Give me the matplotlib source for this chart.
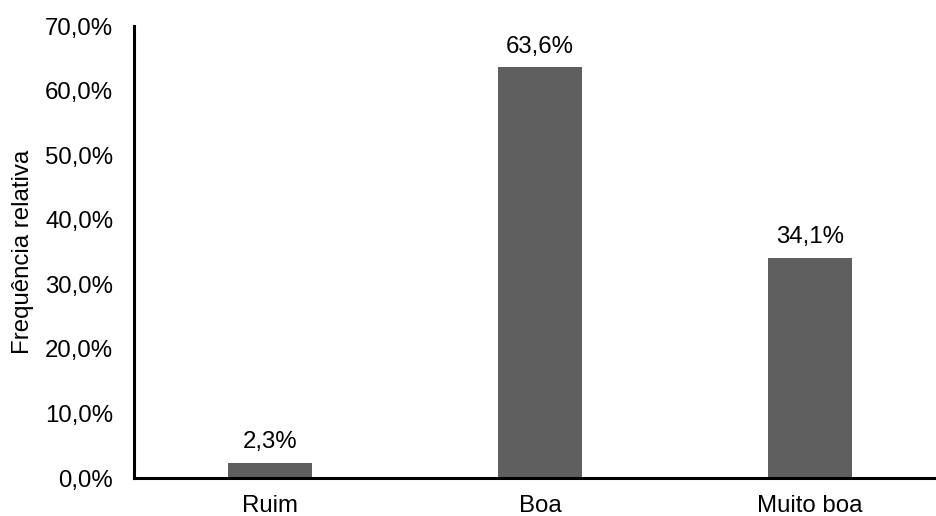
import matplotlib
matplotlib.use("Agg")
import matplotlib.pyplot as plt
from matplotlib.ticker import FuncFormatter

plt.rcParams['font.family'] = ['Liberation Sans', 'DejaVu Sans']

categorias = ['Ruim', 'Boa', 'Muito boa']
frequencias = [2.3, 63.6, 34.1]
yticks = [0, 10, 20, 30, 40, 50, 60, 70]

fig = plt.figure(figsize=(9.37, 5.16), dpi=100)
ax = fig.add_axes([0.143, 0.0736, 0.857, 0.876])

x = range(len(categorias))
ax.bar(x, frequencias, width=0.311, color='#5f5f5f')

# rótulos de valor acima das barras
for xi, v in zip(x, frequencias):
    ax.text(xi, v + 1.5, f"{v:.1f}%".replace('.', ','), ha='center', va='bottom',
            fontsize=17.3)

ax.set_xlim(-0.504, 2.47)
ax.set_ylim(0, 70)
ax.set_yticks(yticks)
ax.yaxis.set_major_formatter(FuncFormatter(lambda v, p: f"{v:.1f}%".replace('.', ',')))
ax.set_xticks(list(x))
ax.set_xticklabels(categorias)
ax.tick_params(axis='both', length=0, labelsize=17.3)
ax.tick_params(axis='y', pad=15)
ax.tick_params(axis='x', pad=12)
ax.set_ylabel('Frequência relativa', fontsize=17.3, labelpad=8)

for s in ['top', 'right']:
    ax.spines[s].set_visible(False)
for s in ['left', 'bottom']:
    ax.spines[s].set_linewidth(2.2)
    ax.spines[s].set_color('black')

fig.savefig('out.png', dpi=100)
